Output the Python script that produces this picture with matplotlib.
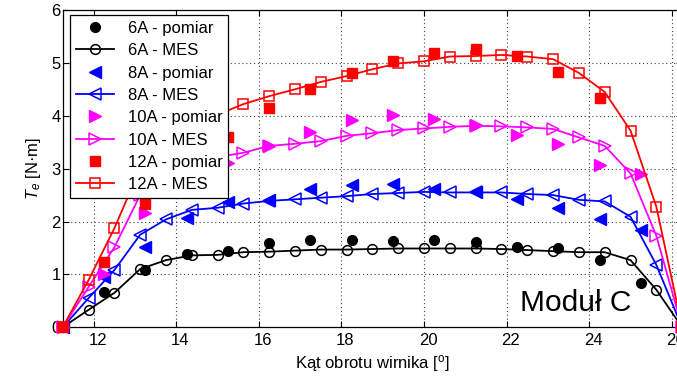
import numpy as np
import matplotlib
matplotlib.use("Agg")
import matplotlib.pyplot as plt
import matplotlib.transforms as mtransforms

plt.rcParams['font.family'] = ['Liberation Sans', 'DejaVu Sans']
plt.rcParams['mathtext.fontset'] = 'custom'
plt.rcParams['mathtext.rm'] = 'Liberation Sans'
plt.rcParams['mathtext.it'] = 'Liberation Sans:italic'

# MES (simulation) angles
x_mes = [11.25, 11.875, 12.5, 13.125, 13.75, 14.375, 15.0, 15.625, 16.25, 16.875,
         17.5, 18.125, 18.75, 19.375, 20.0, 20.625, 21.25, 21.875, 22.5, 23.125,
         23.75, 24.375, 25.0, 25.625, 26.25]
mes_6A = [0, 0.33, 0.65, 1.10, 1.27, 1.36, 1.37, 1.42, 1.43, 1.45, 1.47, 1.47, 1.48,
          1.49, 1.49, 1.49, 1.49, 1.48, 1.46, 1.44, 1.42, 1.42, 1.27, 0.71, 0]
mes_8A = [0, 0.55, 1.08, 1.75, 2.04, 2.22, 2.26, 2.34, 2.39, 2.42, 2.45, 2.48, 2.52,
          2.54, 2.56, 2.55, 2.55, 2.55, 2.52, 2.50, 2.41, 2.38, 2.09, 1.18, 0]
mes_10A = [0, 0.76, 1.51, 2.50, 2.88, 3.12, 3.22, 3.30, 3.43, 3.47, 3.52, 3.62, 3.67,
           3.73, 3.76, 3.79, 3.81, 3.80, 3.78, 3.75, 3.59, 3.43, 2.91, 1.73, 0]
mes_12A = [0, 0.89, 1.87, 3.00, 3.55, 3.88, 4.02, 4.22, 4.37, 4.50, 4.64, 4.75, 4.88,
           4.99, 5.03, 5.12, 5.13, 5.15, 5.12, 5.07, 4.81, 4.45, 3.72, 2.28, 0]

# Measurement angles
x_pom = [11.25, 12.25, 13.25, 14.25, 15.25, 16.25, 17.25, 18.25, 19.25, 20.25,
         21.25, 22.25, 23.25, 24.25, 25.25]
pom_6A = [0, 0.67, 1.08, 1.38, 1.45, 1.59, 1.65, 1.66, 1.64, 1.66, 1.62, 1.52, 1.49, 1.27, 0.84]
pom_8A = [0, 0.95, 1.52, 2.07, 2.36, 2.41, 2.62, 2.69, 2.71, 2.61, 2.55, 2.42, 2.25, 2.05, 1.84]
pom_10A = [0, 1.01, 2.17, 2.85, 3.10, 3.43, 3.70, 3.92, 4.01, 3.93, 3.82, 3.64, 3.47, 3.07, 2.90]
pom_12A = [0, 1.23, 2.33, 3.40, 3.60, 4.15, 4.50, 4.80, 5.04, 5.19, 5.26, 5.13, 4.83, 4.33, np.nan]

labels = ['6A', '8A', '10A', '12A']
colors = ['black', 'blue', 'magenta', 'red']
markers = ['o', '<', '>', 's']
pom_all = [pom_6A, pom_8A, pom_10A, pom_12A]
mes_all = [mes_6A, mes_8A, mes_10A, mes_12A]
ms_pom = [7, 8, 8, 7]
ms_mes = [7, 8, 8, 7]

fig = plt.figure(figsize=(6.77, 3.80), dpi=100)
ax = fig.add_axes([0.0926, 0.1387, 0.915, 0.835])

for lab, c, m, p, me, mp, mm in zip(labels, colors, markers, pom_all, mes_all, ms_pom, ms_mes):
    ax.plot(x_pom, p, linestyle='none', marker=m, color=c, markersize=mp,
            markeredgecolor=c, label=f'{lab} - pomiar', clip_on=False, zorder=3)
    ax.plot(x_mes, me, linestyle='-', marker=m, color=c, markersize=mm,
            markerfacecolor='none', markeredgecolor=c, markeredgewidth=1.1,
            linewidth=1.3, label=f'{lab} - MES', clip_on=False, zorder=3)

ax.set_xlim(11.25, 26.25)
ax.set_ylim(0, 6)
ax.set_xticks([12, 14, 16, 18, 20, 22, 24, 26])
ax.set_yticks([0, 1, 2, 3, 4, 5, 6])
ax.tick_params(direction='in', top=True, right=True, labelsize=12, length=4, width=0.8)
ax.tick_params(axis='x', pad=4)
ax.tick_params(axis='y', pad=1.5)
ax.grid(True, color='0.25', linestyle=(0, (1, 2.5)), linewidth=0.8)
for s in ax.spines.values():
    s.set_linewidth(0.9)

# x tick labels in the reference sit slightly right of their ticks
offset = mtransforms.ScaledTranslation(4 / 100, 0, fig.dpi_scale_trans)
for lbl in ax.get_xticklabels():
    lbl.set_transform(lbl.get_transform() + offset)

ax.set_xlabel('Kąt obrotu wirnika [$^{\\mathrm{o}}$]', fontsize=12, labelpad=4)
ax.set_ylabel('$T_e$ [N·m]', fontsize=12, labelpad=6)

ax.text(0.738, 0.05, 'Moduł C', transform=ax.transAxes, fontsize=21.5,
        ha='left', va='baseline')

leg = ax.legend(loc='upper left', bbox_to_anchor=(0.012, 0.984), borderaxespad=0,
                fontsize=12, numpoints=1, handlelength=2.3, handletextpad=0.8,
                labelspacing=0.44, borderpad=0.35, fancybox=False, framealpha=1,
                edgecolor='black')
leg.get_frame().set_linewidth(0.9)

fig.savefig('out.png', dpi=100)
